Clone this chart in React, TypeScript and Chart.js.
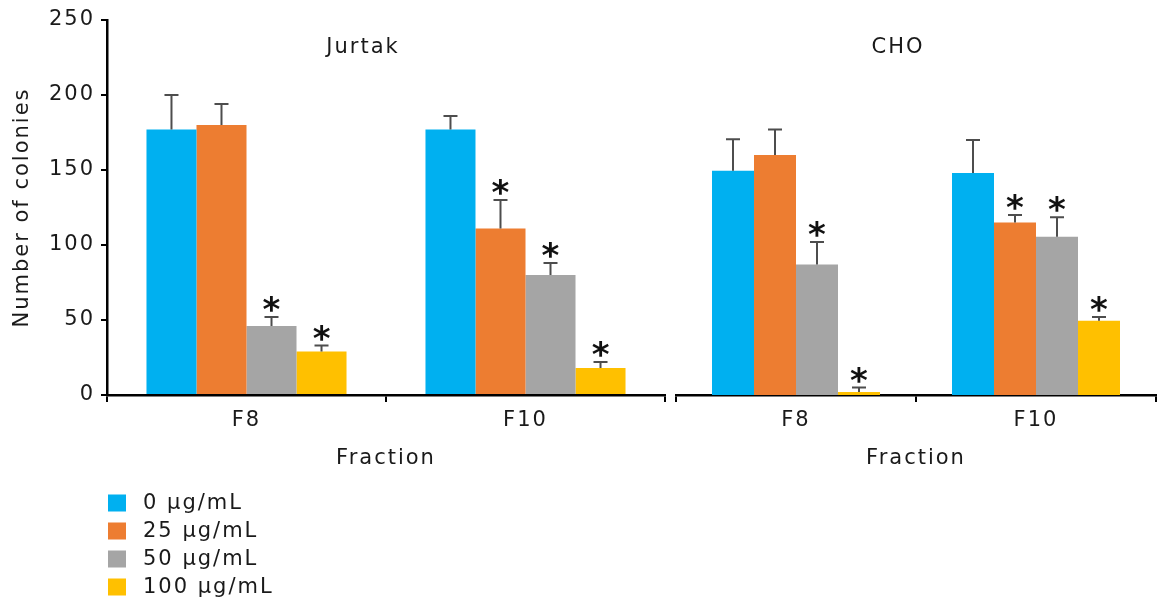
import { useEffect, useRef } from 'react';
import { Chart, registerables } from 'chart.js';

Chart.register(...registerables);

// ---------- data ----------
const fractions = ['F8', 'F10'];
const doseLabels = ['0 µg/mL', '25 µg/mL', '50 µg/mL', '100 µg/mL'];
const doseColors = ['#00b0f0', '#ed7d31', '#a5a5a5', '#ffc000'];
const yTicks = [0, 50, 100, 150, 200, 250];

// Jurkat panel ("Jurtak" in the figure)
const jurkat0 = [177, 177];
const jurkat0Err = [23, 9];
const jurkat0Sig = [false, false];
const jurkat25 = [180, 111];
const jurkat25Err = [14, 19];
const jurkat25Sig = [false, true];
const jurkat50 = [46, 80];
const jurkat50Err = [6, 8];
const jurkat50Sig = [true, true];
const jurkat100 = [29, 18];
const jurkat100Err = [4, 4];
const jurkat100Sig = [true, true];

// CHO panel
const cho0 = [149.5, 148];
const cho0Err = [21, 22];
const cho0Sig = [false, false];
const cho25 = [160, 115];
const cho25Err = [17, 5];
const cho25Sig = [false, true];
const cho50 = [87, 105.5];
const cho50Err = [15, 13];
const cho50Sig = [true, true];
const cho100 = [2, 49.5];
const cho100Err = [3, 2.5];
const cho100Sig = [true, true];

const FONT = 'DejaVu Sans';
const FONT_SIZE = 21;
const TEXT = '#1a1a1a';
const SPACING = '2px';

// ---------- plugins ----------
const spacingPlugin = {
  id: 'spacing',
  beforeUpdate(chart: any) {
    chart.ctx.letterSpacing = SPACING;
  },
  beforeDraw(chart: any) {
    chart.ctx.letterSpacing = SPACING;
  },
};

const errorStarPlugin = {
  id: 'errorStar',
  afterDatasetsDraw(chart: any) {
    const ctx = chart.ctx;
    const y = chart.scales.y;
    chart.data.datasets.forEach((ds: any, i: number) => {
      const meta = chart.getDatasetMeta(i);
      meta.data.forEach((bar: any, j: number) => {
        const v = ds.data[j];
        const e = ds.errors[j];
        const top = y.getPixelForValue(v);
        const et = y.getPixelForValue(v + e);
        ctx.save();
        ctx.strokeStyle = '#4d4d4d';
        ctx.lineWidth = 2;
        ctx.beginPath();
        ctx.moveTo(bar.x, top);
        ctx.lineTo(bar.x, et);
        ctx.moveTo(bar.x - 7, et);
        ctx.lineTo(bar.x + 7, et);
        ctx.stroke();
        if (ds.sig[j]) {
          ctx.letterSpacing = '0px';
          ctx.fillStyle = '#111111';
          ctx.font = `bold 34px "${FONT}"`;
          ctx.textAlign = 'center';
          ctx.textBaseline = 'alphabetic';
          const cy = et - 14;
          ctx.fillText('*', bar.x, cy + 0.53 * 34);
        }
        ctx.restore();
      });
    });
  },
};

const panelTitlePlugin = {
  id: 'panelTitle',
  afterDraw(chart: any, _args: any, opts: any) {
    if (!opts || !opts.text) return;
    const ctx = chart.ctx;
    const a = chart.chartArea;
    ctx.save();
    ctx.fillStyle = TEXT;
    ctx.font = `${FONT_SIZE}px "${FONT}"`;
    ctx.textAlign = 'center';
    ctx.textBaseline = 'middle';
    ctx.fillText(opts.text, (a.left + a.right) / 2 + opts.dx, a.top + opts.dy);
    ctx.restore();
  },
};

const boxLegendPlugin = {
  id: 'boxLegend',
  afterDraw(chart: any, _args: any, opts: any) {
    if (!opts || !opts.show) return;
    const ctx = chart.ctx;
    const a = chart.chartArea;
    ctx.save();
    ctx.font = `${FONT_SIZE}px "${FONT}"`;
    ctx.textAlign = 'left';
    ctx.textBaseline = 'middle';
    chart.data.datasets.forEach((ds: any, i: number) => {
      const x = a.left + 1;
      const yc = opts.top + i * opts.step;
      ctx.fillStyle = ds.backgroundColor;
      ctx.fillRect(x, yc - 8.5, 18, 17);
      ctx.fillStyle = TEXT;
      ctx.fillText(ds.label, x + 35, yc + 1);
    });
    ctx.restore();
  },
};

// ---------- config ----------
function makeDatasets(values: number[][], errs: number[][], sigs: boolean[][]) {
  return values.map((vals, i) => ({
    label: doseLabels[i],
    data: vals,
    errors: errs[i],
    sig: sigs[i],
    backgroundColor: doseColors[i],
    borderWidth: 0,
  }));
}

function makeConfig(kind: 'left' | 'right'): any {
  const isLeft = kind === 'left';
  const datasets = isLeft
    ? makeDatasets(
        [jurkat0, jurkat25, jurkat50, jurkat100],
        [jurkat0Err, jurkat25Err, jurkat50Err, jurkat100Err],
        [jurkat0Sig, jurkat25Sig, jurkat50Sig, jurkat100Sig]
      )
    : makeDatasets(
        [cho0, cho25, cho50, cho100],
        [cho0Err, cho25Err, cho50Err, cho100Err],
        [cho0Sig, cho25Sig, cho50Sig, cho100Sig]
      );
  const font = { family: FONT, size: FONT_SIZE };
  return {
    type: 'bar',
    data: { labels: fractions, datasets },
    options: {
      responsive: false,
      animation: false,
      devicePixelRatio: 1,
      datasets: {
        bar: {
          barPercentage: 1,
          categoryPercentage: isLeft ? 0.717 : 0.7,
        },
      },
      layout: {
        padding: isLeft
          ? { left: 0, right: 15, top: 20, bottom: 126 }
          : { left: 16, right: 9, top: 20, bottom: 126 },
      },
      plugins: {
        legend: { display: false },
        tooltip: { enabled: false },
        panelTitle: isLeft
          ? { text: 'Jurtak', dx: -23, dy: 28 }
          : { text: 'CHO', dx: -18, dy: 28 },
        boxLegend: { show: isLeft, top: 503, step: 28 },
      },
      scales: {
        x: {
          grid: {
            display: true,
            drawOnChartArea: false,
            drawTicks: true,
            tickLength: 7,
            color: '#000000',
            lineWidth: 2,
            offset: true,
          },
          border: { display: true, color: '#000000', width: 2.5 },
          ticks: {
            color: TEXT,
            font,
            padding: 6,
            maxRotation: 0,
          },
          title: {
            display: true,
            text: 'Fraction',
            color: TEXT,
            font,
            padding: { top: 12, bottom: 4 },
          },
          afterFit(scale: any) {
            scale.height = 80;
          },
        },
        y: {
          display: isLeft,
          min: 0,
          max: 250,
          grid: {
            display: true,
            drawOnChartArea: false,
            drawTicks: true,
            tickLength: 6,
            color: '#000000',
            lineWidth: 2,
          },
          border: { display: true, color: '#000000', width: 2.5 },
          ticks: {
            color: TEXT,
            font,
            padding: 6,
          },
          afterBuildTicks(scale: any) {
            scale.ticks = yTicks.map((v) => ({ value: v }));
          },
          title: {
            display: true,
            text: 'Number of colonies',
            color: TEXT,
            font,
            padding: { top: 10, bottom: 0 },
          },
          afterFit(scale: any) {
            if (isLeft) scale.width = 107;
          },
        },
      },
    },
    plugins: [spacingPlugin, errorStarPlugin, panelTitlePlugin, boxLegendPlugin],
  };
}

export default function App() {
  const leftRef = useRef<HTMLCanvasElement | null>(null);
  const rightRef = useRef<HTMLCanvasElement | null>(null);

  useEffect(() => {
    const charts: Chart[] = [];
    if (leftRef.current) charts.push(new Chart(leftRef.current, makeConfig('left')));
    if (rightRef.current) charts.push(new Chart(rightRef.current, makeConfig('right')));
    return () => charts.forEach((c) => c.destroy());
  }, []);

  return (
    <div
      style={{
        position: 'fixed',
        left: 0,
        top: 0,
        width: 1165,
        height: 601,
        background: '#ffffff',
        overflow: 'hidden',
      }}
    >
      <canvas
        ref={leftRef}
        width={680}
        height={601}
        style={{ position: 'absolute', left: 0, top: 0, width: 680, height: 601 }}
      />
      <canvas
        ref={rightRef}
        width={505}
        height={601}
        style={{ position: 'absolute', left: 660, top: 0, width: 505, height: 601 }}
      />
    </div>
  );
}
